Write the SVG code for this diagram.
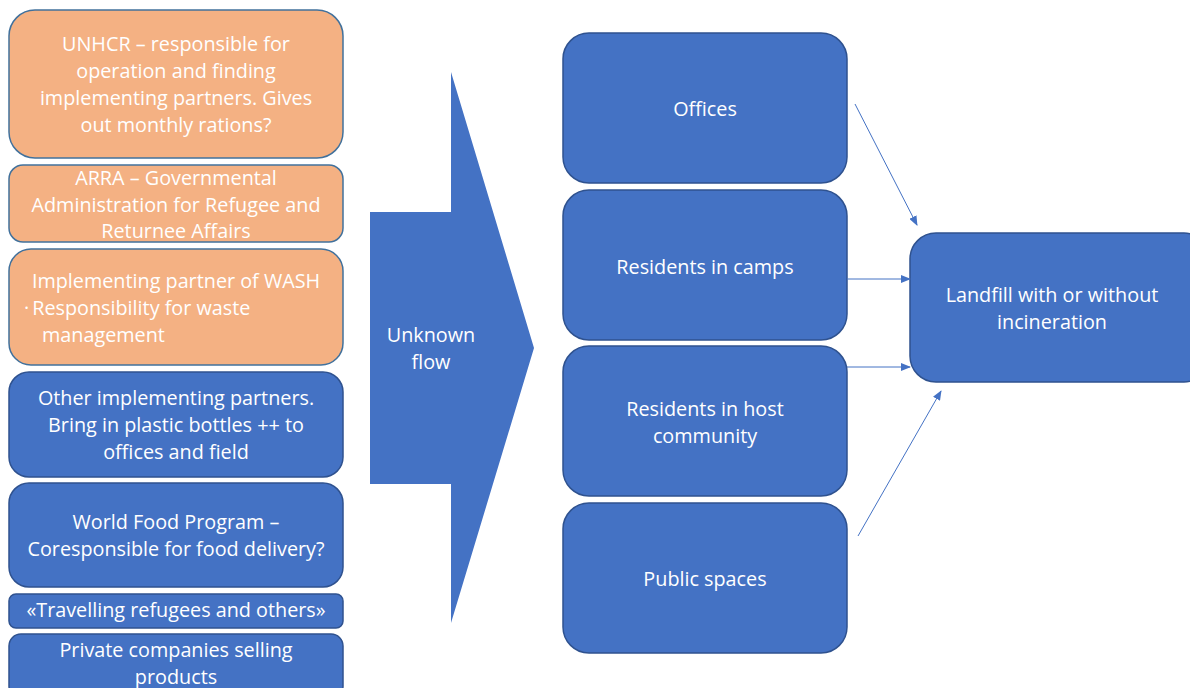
<svg xmlns="http://www.w3.org/2000/svg" width="1190" height="688" viewBox="0 0 1190 688">
<defs>
<style>
.b{fill:#4472C4;stroke:#2F528F;stroke-width:1.5}
.o{fill:#F4B183;stroke:#41719C;stroke-width:1.5}
text{font-family:"Open Sans","Liberation Sans",sans-serif;font-size:19.8px;fill:#FFFFFF}
.c{text-anchor:middle}
.ln{stroke:#4472C4;stroke-width:1;fill:none;marker-end:url(#ah)}
</style>
<marker id="ah" markerWidth="10" markerHeight="8" refX="9" refY="4" orient="auto" markerUnits="userSpaceOnUse">
<path d="M0,0 L10,4 L0,8 Z" fill="#4472C4"/>
</marker>
</defs>
<rect width="1190" height="688" fill="#FFFFFF"/>
<g id="unhcr"><rect class="o" x="9" y="10" width="334" height="148" rx="26"/>
<text class="c" x="176" y="51">UNHCR – responsible for</text>
<text class="c" x="176" y="78">operation and finding</text>
<text class="c" x="176" y="105">implementing partners. Gives</text>
<text class="c" x="176" y="132">out monthly rations?</text></g>
<g id="arra"><rect class="o" x="9" y="165" width="334" height="77" rx="14"/>
<text class="c" x="176" y="185">ARRA – Governmental</text>
<text class="c" x="176" y="212">Administration for Refugee and</text>
<text class="c" x="176" y="238">Returnee Affairs</text></g>
<g id="wash"><rect class="o" x="9" y="249" width="334" height="116" rx="22"/>
<text class="c" x="176" y="288">Implementing partner of WASH</text>
<text x="24" y="315">·<tspan dx="3">Responsibility for waste</tspan></text>
<text x="42" y="342">management</text></g>
<g id="other"><rect class="b" x="9" y="372" width="334" height="105" rx="20"/>
<text class="c" x="176" y="405">Other implementing partners.</text>
<text class="c" x="176" y="432">Bring in plastic bottles ++ to</text>
<text class="c" x="176" y="459">offices and field</text></g>
<g id="wfp"><rect class="b" x="9" y="483" width="334" height="104" rx="20"/>
<text class="c" x="176" y="529">World Food Program –</text>
<text class="c" x="176" y="556">Coresponsible for food delivery?</text></g>
<g id="travel"><rect class="b" x="9" y="594" width="334" height="34" rx="7"/>
<text class="c" x="176" y="617">«Travelling refugees and others»</text></g>
<g id="private"><rect class="b" x="9" y="634" width="334" height="64" rx="12"/>
<text class="c" x="176" y="657">Private companies selling</text>
<text class="c" x="176" y="684">products</text></g>
<g id="flow"><path d="M370,212 L451,212 L451,72 L534,348 L451,623 L451,484 L370,484 Z" fill="#4472C4"/>
<text class="c" x="431" y="342">Unknown</text>
<text class="c" x="431" y="369">flow</text></g>
<g id="offices"><rect class="b" x="563" y="33" width="284" height="150" rx="26"/>
<text class="c" x="705" y="116">Offices</text></g>
<g id="camps"><rect class="b" x="563" y="190" width="284" height="150" rx="26"/>
<text class="c" x="705" y="274">Residents in camps</text></g>
<g id="host"><rect class="b" x="563" y="346" width="284" height="150" rx="26"/>
<text class="c" x="705" y="416">Residents in host</text>
<text class="c" x="705" y="443">community</text></g>
<g id="public"><rect class="b" x="563" y="503" width="284" height="150" rx="26"/>
<text class="c" x="705" y="586">Public spaces</text></g>
<g id="landfill"><rect class="b" x="910" y="233" width="300" height="149" rx="26"/>
<text class="c" x="1052" y="302">Landfill with or without</text>
<text class="c" x="1052" y="329">incineration</text></g>
<g id="connectors">
<line class="ln" x1="855" y1="104" x2="917" y2="225"/>
<line class="ln" x1="847" y1="279" x2="910" y2="279"/>
<line class="ln" x1="847" y1="367" x2="910" y2="367"/>
<line class="ln" x1="858" y1="536" x2="941" y2="391"/>
</g>
</svg>
